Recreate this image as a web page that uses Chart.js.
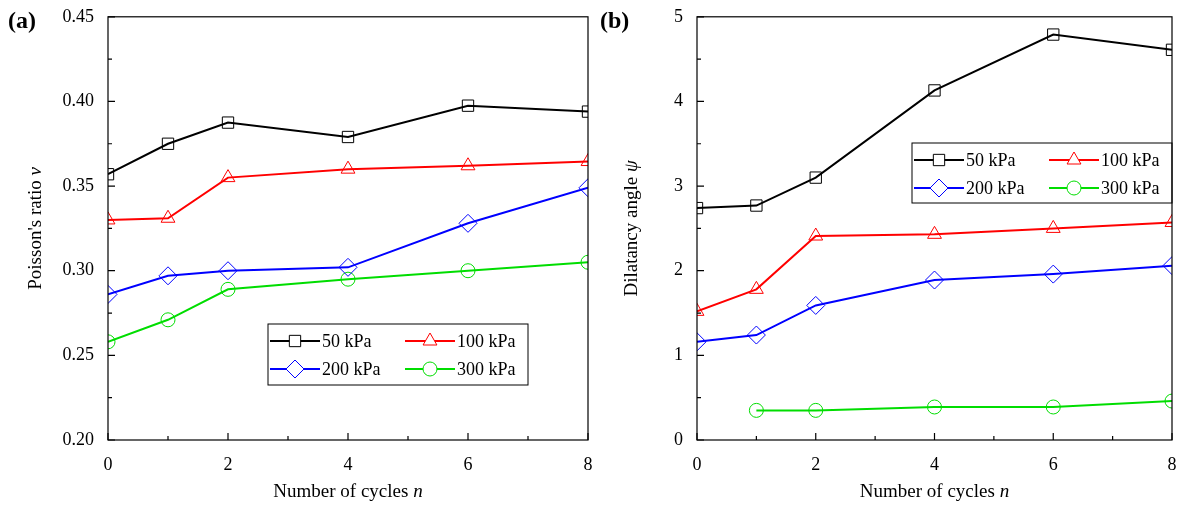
<!DOCTYPE html><html><head><meta charset="utf-8">
<script src="https://cdn.jsdelivr.net/npm/chart.js@4/dist/chart.umd.min.js"></script>
<style>body{margin:0;background:#fff;width:1184px;height:508px;overflow:hidden}
.w{position:absolute;top:0;height:508px}</style></head><body>
<div class="w" style="left:0;width:604px"><canvas id="a"></canvas></div>
<div class="w" style="left:592px;width:592px"><canvas id="b"></canvas></div>
<script>
const cycles=[0,1,2,4,6,8];
const nuLabels=['50 kPa','100 kPa','200 kPa','300 kPa'];
const nu50=[0.357,0.375,0.3875,0.379,0.3975,0.394];
const nu100=[0.330,0.331,0.355,0.360,0.362,0.3645];
const nu200=[0.286,0.297,0.300,0.302,0.328,0.349];
const nu300=[0.258,0.271,0.289,0.295,0.300,0.305];
const psi50=[2.74,2.77,3.10,4.13,4.79,4.61];
const psi100=[1.52,1.78,2.41,2.43,2.50,2.57];
const psi200=[1.16,1.24,1.59,1.89,1.96,2.06];
const psi300=[null,0.35,0.35,0.39,0.39,0.46];
const cols=['#000','#f00','#00f','#0d0'];
const shapes=['rect','triangle','rectRot','circle'];
const radii=[8,8,9,7];
const F='"Liberation Serif", "Times New Roman", serif';
function ds(arrs){return arrs.map((a,i)=>({label:nuLabels[i],data:cycles.map((x,j)=>({x,y:a[j]})),borderColor:cols[i],backgroundColor:'rgba(0,0,0,0)',pointStyle:shapes[i],pointRadius:radii[i],pointBorderWidth:1,borderWidth:2,tension:0,spanGaps:false}));}
function mk(id,arrs,ymin,ymax,step,minor,dec,ylab,ysym,tag,pad,leg,ytx){
 const plug={id:'p'+id,afterDraw(c){const g=c.ctx,a=c.chartArea,sx=c.scales.x,sy=c.scales.y;g.save();g.strokeStyle='#000';g.lineWidth=1.2;g.strokeRect(a.left,a.top,a.right-a.left,a.bottom-a.top);
 g.beginPath();for(let v=0;v<=8;v+=1){const x=sx.getPixelForValue(v),L=v%2?4:7;g.moveTo(x,a.bottom);g.lineTo(x,a.bottom-L);}
 for(let v=ymin;v<=ymax+1e-9;v+=minor){const y=sy.getPixelForValue(v),L=Math.abs(Math.round(v/step)*step-v)<1e-9?7:4;g.moveTo(a.left,y);g.lineTo(a.left+L,y);}g.stroke();
 g.fillStyle='#000';g.font='bold 24px '+F;g.textBaseline='top';g.textAlign='left';g.fillText(tag,8,10);
 g.font='19px '+F;g.textBaseline='alphabetic';const t1='Number of cycles ';const w1=g.measureText(t1).width;g.font='italic 19px '+F;const w2=g.measureText('n').width;
 let xs=(a.left+a.right)/2-(w1+w2)/2;g.font='19px '+F;g.fillText(t1,xs,497);g.font='italic 19px '+F;g.fillText('n',xs+w1,497);
 g.save();g.translate(ytx,(a.top+a.bottom)/2);g.rotate(-Math.PI/2);g.font='19px '+F;const u1=g.measureText(ylab).width;g.font='italic 19px '+F;const u2=g.measureText(ysym).width;
 g.textBaseline='middle';g.font='19px '+F;g.fillText(ylab,-(u1+u2)/2,0);g.font='italic 19px '+F;g.fillText(ysym,-(u1+u2)/2+u1,0);g.restore();
 const [lx,ly,lw,lh]=leg;g.lineWidth=1;g.strokeStyle='#000';g.strokeRect(lx,ly,lw,lh);g.font='18px '+F;g.textBaseline='middle';
 c.data.datasets.forEach((d,i)=>{const cx=lx+2+(i%2)*135,cy=ly+17+Math.floor(i/2)*28;g.strokeStyle=cols[i];g.lineWidth=2;g.beginPath();g.moveTo(cx,cy);g.lineTo(cx+50,cy);g.stroke();
 g.lineWidth=1;g.fillStyle='#fff';Chart.helpers.drawPoint(g,{pointStyle:shapes[i],radius:radii[i],borderWidth:1},cx+25,cy);g.fillStyle='#000';g.fillText(d.label,cx+52,cy+1);});
 g.restore();}};
 new Chart(document.getElementById(id),{type:'line',data:{datasets:ds(arrs)},plugins:[plug],
 options:{responsive:false,animation:false,devicePixelRatio:1,layout:{padding:pad},plugins:{legend:{display:false},tooltip:{enabled:false}},
 scales:{x:{type:'linear',min:0,max:8,ticks:{stepSize:2,color:'#000',font:{family:F,size:18},padding:6},grid:{display:false},border:{display:false},
 afterFit(s){s.height=68;}},
 y:{min:ymin,max:ymax,ticks:{stepSize:step,color:'#000',font:{family:F,size:18},padding:6,callback:v=>v.toFixed(dec)},grid:{display:false},border:{display:false},
 afterFit(s){s.width=pad.yw;}}}}});
}
document.getElementById('a').width=604;document.getElementById('a').height=508;
document.getElementById('b').width=592;document.getElementById('b').height=508;
mk('a',[nu50,nu100,nu200,nu300],0.20,0.45,0.05,0.025,2,"Poisson's ratio ",'ν','(a)',{left:0,right:16,top:16,bottom:0,yw:108},[268,324,260,61],36);
mk('b',[psi50,psi100,psi200,psi300],0,5,1,0.5,0,'Dilatancy angle ','ψ','(b)',{left:0,right:12,top:16,bottom:0,yw:105},[320,143,260,60],40);
</script></body></html>
